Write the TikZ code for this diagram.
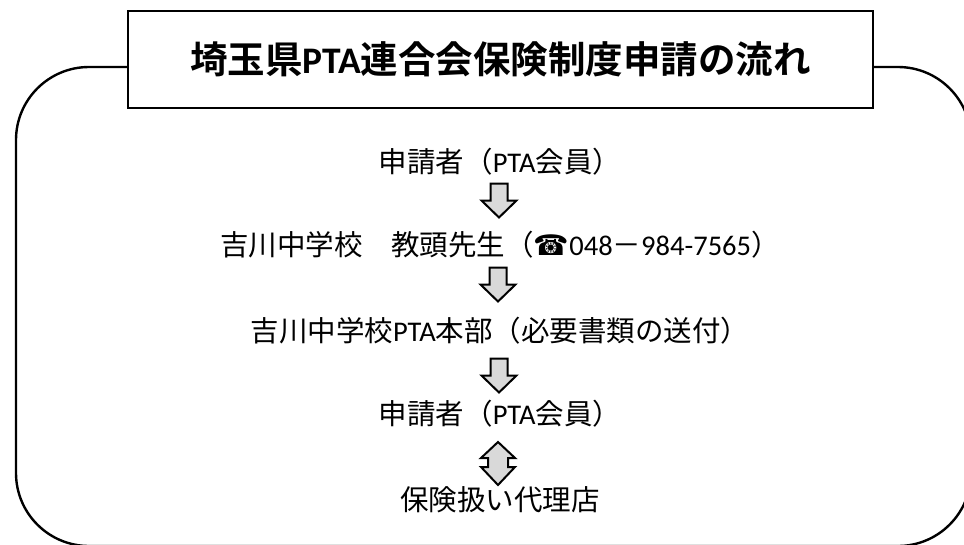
\documentclass[tikz,border=0pt]{standalone}
\usepackage{fontspec}
\setmainfont{Noto Sans CJK JP}[BoldFont={Noto Sans CJK JP Bold}]
\newfontfamily\lat{Carlito}
\newfontfamily\symb{DejaVu Sans}
\begin{document}
\begin{tikzpicture}[x=1pt,y=-1pt,line join=miter,
				frame/.style={line width=2.4pt},
				titlebox/.style={draw,line width=2.2pt,fill=white,inner sep=0pt,
					minimum width=745pt,minimum height=97pt,
					font=\fontsize{37.5}{42}\selectfont\bfseries},
				flowtext/.style={inner sep=0pt,font=\fontsize{28.5}{32}\selectfont},
				blockarrow/.style={draw,line width=2pt,fill=gray!30},
				dnarrow/.pic={\draw[blockarrow] (-8.5,-17)--(8.5,-17)--(8.5,0)--(17.5,0)
					--(0,17)--(-17.5,0)--(-8.5,0)--cycle;},
				udarrow/.pic={\draw[blockarrow] (0,-21.5)--(17,-5.5)--(10,-5.5)--(10,3.5)
					--(17,3.5)--(0,21.5)--(-17,3.5)--(-10,3.5)--(-10,-5.5)--(-17,-5.5)--cycle;}]
				\def\rad{73}
				\def\cx{500}
				\useasboundingbox (0,0) rectangle (964,544);
				\clip (0,0) rectangle (964,544);
				% outer frame, open at the title box
				\draw[frame,rounded corners=\rad pt] (128,67)--(16,67)--(16,546)
				--(971,546)--(971,67)--(873,67);
				\node[titlebox] (title) at (500.5,59.5)
				{埼玉県{\lat PTA}連合会保険制度申請の流れ};
				\node[flowtext] (sh1) at (\cx,161.5) {申請者（{\lat PTA}会員）};
				\node[flowtext] (kt) at (\cx,244.5)
				{吉川中学校　教頭先生（{\symb ☎}{\lat 048}－{\lat 984-7565}）};
				\node[flowtext] (hb) at (\cx,330.5)
				{吉川中学校{\lat PTA}本部（必要書類の送付）};
				\node[flowtext] (sh2) at (\cx,413.5) {申請者（{\lat PTA}会員）};
				\node[flowtext] (dr) at (\cx,499.5) {保険扱い代理店};
				\path (499,200.5) coordinate (a1)
				(498,284.5) coordinate (a2)
				(499,375.5) coordinate (a3)
				(498,463.5) coordinate (a4);
				\pic at (a1) {dnarrow};
				\pic at (a2) {dnarrow};
				\pic at (a3) {dnarrow};
				\pic at (a4) {udarrow};
			\end{tikzpicture}
\end{document}
